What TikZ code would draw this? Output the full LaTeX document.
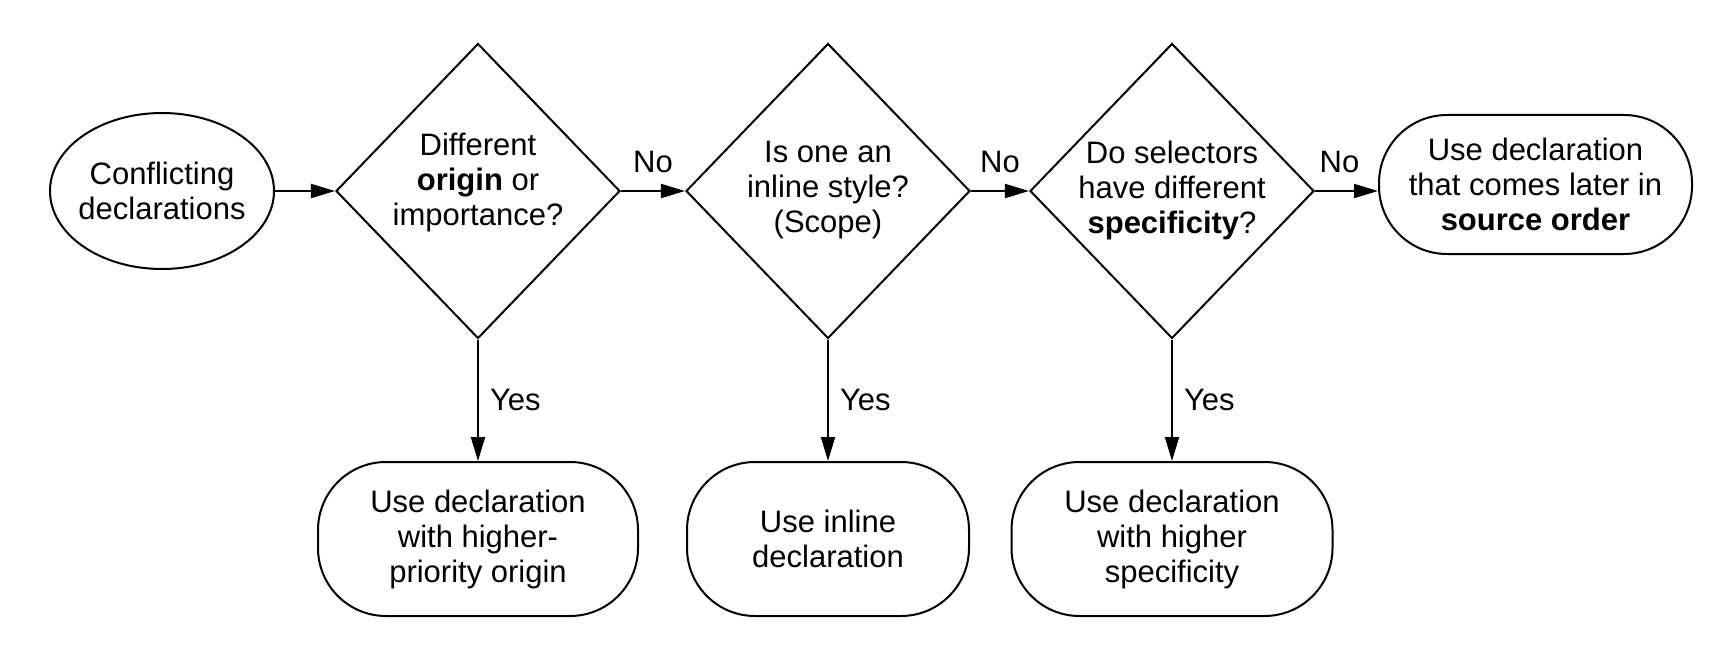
\documentclass[tikz,border=0pt]{standalone}
\usepackage{fontspec}
\setmainfont{Liberation Sans}
\usetikzlibrary{shapes.geometric,arrows.meta}
\begin{document}
\begin{tikzpicture}[x=1pt,y=-1pt, line width=2pt,
  every node/.style={font=\fontsize{31}{35}\selectfont},
  box/.style={draw, rectangle, rounded corners=68pt, align=center, inner sep=0pt},
  dia/.style={draw, diamond, inner sep=0pt, minimum width=284pt, minimum height=295pt},
  oval/.style={draw, ellipse, inner sep=0pt},
  txt/.style={align=center, inner sep=0pt},
  arr/.style={-{Triangle[length=24pt,width=14pt]}},
  lbl/.style={inner sep=0pt}]
\useasboundingbox (0,0) rectangle (1730,658);
% start
\node[oval, minimum width=224pt, minimum height=156pt] (start) at (162,191) {};
\node[txt] (starttxt) at (162,191) {Conflicting\\declarations};
% decisions
\node[dia] (d1) at (478,191) {};
\node[txt] (d1txt) at (478,182) {Different\\\textbf{origin} or\\importance?};
\node[dia] (d2) at (828,191) {};
\node[txt] (d2txt) at (828,190) {Is one an\\inline style?\\(Scope)};
\node[dia] (d3) at (1172,191) {};
\node[txt] (d3txt) at (1172,190) {Do selectors\\have different\\\textbf{specificity}?};
% outcomes
\node[box, minimum width=313pt, minimum height=139pt] (r4) at (1535.5,184.5) {Use declaration\\that comes later in\\\textbf{source order}};
\node[box, minimum width=320pt, minimum height=154pt] (b1) at (478,539) {Use declaration\\with higher-\\priority origin};
\node[box, minimum width=282pt, minimum height=154pt] (b2) at (828,539) {Use inline\\declaration};
\node[box, minimum width=321pt, minimum height=154pt] (b3) at (1172,539) {Use declaration\\with higher\\specificity};
% connectors
\draw[arr] (start) -- (d1);
\draw[arr] (d1) -- (d2) node[lbl, midway, above=17pt] {No};
\draw[arr] (d2) -- (d3) node[lbl, midway, above=17pt] {No};
\draw[arr] (d3.east) -- (d3.east -| r4.west) node[lbl, midway, above=17pt, xshift=-7pt] {No};
\draw[arr] (d1) -- (b1) node[lbl, midway, right=11pt] {Yes};
\draw[arr] (d2) -- (b2) node[lbl, midway, right=11pt] {Yes};
\draw[arr] (d3) -- (b3) node[lbl, midway, right=11pt] {Yes};
\end{tikzpicture}
\end{document}
